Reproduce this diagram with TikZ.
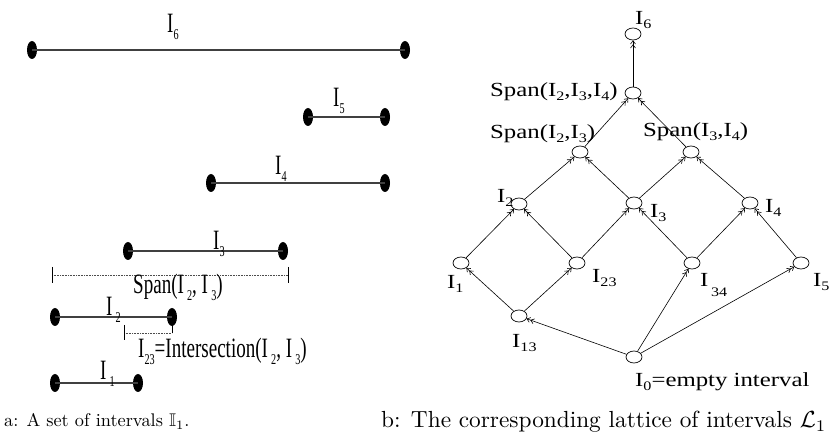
\documentclass[tikz,border=0pt]{standalone}
\usepackage{amssymb}
\usepackage{fontspec}
\newfontfamily\tms{Liberation Serif}
\usetikzlibrary{arrows.meta,shapes.geometric}
\newcommand{\Lft}[1]{\scalebox{0.68}[1]{\fontsize{28}{30}\selectfont\tms #1}}
\newcommand{\ls}[1]{\raisebox{-7pt}{\fontsize{15}{16}\selectfont #1}}
\newcommand{\Rt}[1]{\scalebox{1.24}[1]{\fontsize{20}{22}\selectfont\tms #1}}
\newcommand{\rs}[1]{\raisebox{-4pt}{\fontsize{13}{14}\selectfont #1}}
\tikzset{
  dot/.style={ellipse,fill=black,minimum width=10pt,minimum height=18pt,inner sep=0pt},
  ivl/.style={line width=1.1pt,black!75},
  dottedl/.style={line width=0.6pt,black!70,dash pattern=on 0.8pt off 0.8pt},
  tick/.style={line width=0.7pt,black},
  lnode/.style={draw,ellipse,minimum width=16pt,minimum height=12pt,inner sep=0pt,line width=0.7pt},
  arr/.style={line width=0.6pt,-{Straight Barb[length=3.2pt,width=5pt]Straight Barb[length=3.2pt,width=5pt]}},
  lab/.style={anchor=base west,inner sep=0pt},
}
\begin{document}
\begin{tikzpicture}[x=1pt,y=-1pt]
\useasboundingbox (0,0) rectangle (830,443);
% ---------- left panel ----------
\node[dot] (d6a) at (32,50) {};
\node[dot] (d6b) at (405,50) {};
\node[dot] (d5a) at (308,117) {};
\node[dot] (d5b) at (385,117) {};
\node[dot] (d4a) at (211,183) {};
\node[dot] (d4b) at (385,183) {};
\node[dot] (d3a) at (128,251) {};
\node[dot] (d3b) at (283,251) {};
\node[dot] (d2a) at (55,317) {};
\node[dot] (d2b) at (172,317) {};
\node[dot] (d1a) at (55,383) {};
\node[dot] (d1b) at (138,383) {};
\draw[ivl] (d6a.center) -- (d6b.center);
\draw[ivl] (d5a.center) -- (d5b.center);
\draw[ivl] (d4a.center) -- (d4b.center);
\draw[ivl] (d3a.center) -- (d3b.center);
\draw[ivl] (d2a.center) -- (d2b.center);
\draw[ivl] (d1a.center) -- (d1b.center);
\coordinate (sL) at (52,275);
\coordinate (sR) at (288,275);
\draw[dottedl] (sL) -- (sR);
\draw[tick] (sL) ++(0,-8) -- ++(0,16);
\draw[tick] (sR) ++(0,-8) -- ++(0,16);
\coordinate (iL) at (124,333);
\coordinate (iR) at (172,333);
\draw[dottedl] (iL) -- (iR);
\draw[tick] (iL) ++(0,-8) -- ++(0,15);
\draw[tick] (d2b.center) -- (iR);
\node[lab] (t6) at (167,33) {\Lft{I\ls{6}}};
\node[lab] (t5) at (333,107) {\Lft{I\ls{5}}};
\node[lab] (t4) at (275,175) {\Lft{I\ls{4}}};
\node[lab] (t3) at (213,250) {\Lft{I\ls{3}}};
\node[lab] (tspan) at (133,294) {\Lft{Span(I\,\ls{2}, I\,\ls{3})}};
\node[lab] (t2) at (106,316) {\Lft{I\,\ls{2}}};
\node[lab] (tint) at (138,358) {\Lft{I\ls{23}=Intersection(I\,\ls{2}, I\,\ls{3})}};
\node[lab] (t1) at (100,380) {\Lft{I\,\ls{1}}};
% ---------- right panel ----------
\node[lnode] (I6) at (633,34) {};
\node[lnode] (S234) at (633,93) {};
\node[lnode] (S23) at (580,152) {};
\node[lnode] (S34) at (691,152) {};
\node[lnode] (I2) at (519,204) {};
\node[lnode] (I3) at (634,203) {};
\node[lnode] (I4) at (750,203) {};
\node[lnode] (I1) at (461,263) {};
\node[lnode] (I23) at (577,263) {};
\node[lnode] (I34) at (692,263) {};
\node[lnode] (I5) at (801,263) {};
\node[lnode] (I13) at (519,316) {};
\node[lnode] (I0) at (634,357) {};
\draw[arr] (S234) -- (I6);
\draw[arr] (S23) -- (S234);
\draw[arr] (S34) -- (S234);
\draw[arr] (I2) -- (S23);
\draw[arr] (I3) -- (S23);
\draw[arr] (I3) -- (S34);
\draw[arr] (I4) -- (S34);
\draw[arr] (I1) -- (I2);
\draw[arr] (I23) -- (I2);
\draw[arr] (I23) -- (I3);
\draw[arr] (I34) -- (I3);
\draw[arr] (I34) -- (I4);
\draw[arr] (I5) -- (I4);
\draw[arr] (I13) -- (I1);
\draw[arr] (I13) -- (I23);
\draw[arr] (I0) -- (I13);
\draw[arr] (I0) -- (I34);
\draw[arr] (I0) -- (I5);
\node[lab] (l6) at (635,25) {\Rt{I\rs{6}}};
\node[lab] (l234) at (490,97) {\Rt{Span(I\rs{2},I\rs{3},I\rs{4})}};
\node[lab] (l23) at (490,139) {\Rt{Span(I\rs{2},I\rs{3})}};
\node[lab] (l34) at (643,137) {\Rt{Span(I\rs{3},I\rs{4})}};
\node[lab] (l2) at (497,203) {\Rt{I\rs{2}}};
\node[lab] (l3) at (650,218) {\Rt{I\rs{3}}};
\node[lab] (l4) at (765,213) {\Rt{I\rs{4}}};
\node[lab] (l23b) at (592,283) {\Rt{I\rs{23}}};
\node[lab] (l34b) at (700,287) {\Rt{I\raisebox{-10pt}{\fontsize{13}{14}\selectfont\,34}}};
\node[lab] (l5) at (813,287) {\Rt{I\rs{5}}};
\node[lab] (l1) at (447,289) {\Rt{I\rs{1}}};
\node[lab] (l13) at (512,348) {\Rt{I\rs{13}}};
\node[lab] (l0) at (635,387) {\Rt{I\rs{0}=empty interval}};
% ---------- captions ----------
\node[lab] (ca) at (4,427) {\scalebox{1.83}{\fontsize{10}{12}\selectfont a: A set of intervals $\mathbb{I}_1$.}};
\node[lab] (cb) at (381,428) {\scalebox{2.33}{\fontsize{10}{12}\selectfont b: The corresponding lattice of intervals $\mathcal{L}_1$}};
\end{tikzpicture}
\end{document}
